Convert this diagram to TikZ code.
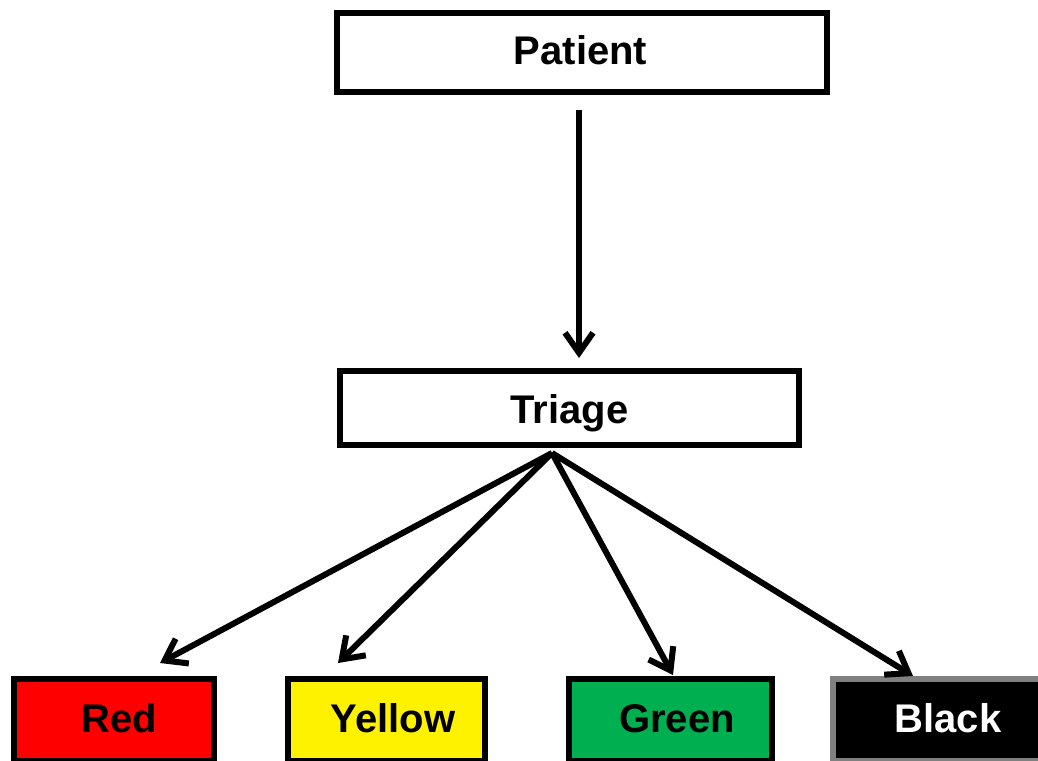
\documentclass[tikz,border=0pt]{standalone}
\usepackage{fontspec}
\setmainfont{Liberation Sans}
\usetikzlibrary{arrows.meta}
\definecolor{tgreen}{RGB}{0,176,80}
\definecolor{tgray}{RGB}{128,128,128}
\begin{document}
\begin{tikzpicture}[x=1pt,y=-1pt,
  box/.style={draw=black, line width=5.5pt, rectangle, inner sep=0pt},
  lbl/.style={anchor=base, inner sep=0pt, font=\bfseries\fontsize{40}{48}\selectfont},
  arr/.style={line width=6pt, -{Straight Barb[length=20pt,width=28pt]}}]
\useasboundingbox (0,0) rectangle (1038,760);
\clip (0,0) rectangle (1038,760);

% top level boxes
\node[box, minimum width=490pt, minimum height=79pt] (patient) at (582,52.5) {};
\node[lbl] (patienttxt) at (580.5,65) {Patient};
\node[box, minimum width=459pt, minimum height=74pt] (triage) at (569.5,408) {};
\node[lbl] (triagetxt) at (569.5,423) {Triage};

% triage categories
\node[box, fill=red, minimum width=200pt, minimum height=82pt] (red) at (114,720) {};
\node[lbl] (redtxt) at (119,732) {Red};
\node[box, fill=yellow, minimum width=197pt, minimum height=82pt] (yellow) at (386.5,720) {};
\node[lbl] (yellowtxt) at (393,732) {Yellow};
\node[box, fill=tgreen, minimum width=203pt, minimum height=82pt] (green) at (670.5,720) {};
\node[lbl] (greentxt) at (677,732) {Green};
\node[box, draw=tgray, fill=black, minimum width=230pt, minimum height=82pt] (black) at (948,720) {};
\node[lbl, text=white] (blacktxt) at (948,732) {Black};

% connector end points
\coordinate (pstart) at (579,110);
\coordinate (pend) at (579,358);
\coordinate (fork) at (552,453);
\coordinate (redtip) at (160,663);
\coordinate (yellowtip) at (338,663);
\coordinate (greentip) at (673,675);
\coordinate (blacktip) at (913,676);

\draw[arr] (pstart) -- (pend);
\draw[arr] (fork) -- (redtip);
\draw[arr] (fork) -- (yellowtip);
\draw[arr] (fork) -- (greentip);
\draw[arr] (fork) -- (blacktip);
\end{tikzpicture}
\end{document}
